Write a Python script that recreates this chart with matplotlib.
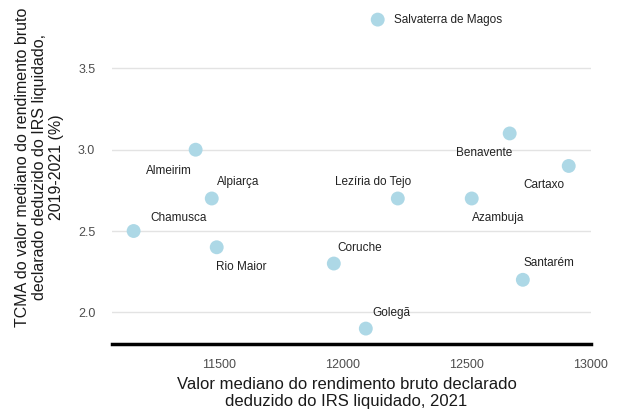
import matplotlib
matplotlib.use("Agg")
import matplotlib.pyplot as plt

plt.rcParams['font.family'] = ['Liberation Sans', 'DejaVu Sans']

municipios = ["Salvaterra de Magos", "Almeirim", "Alpiarça", "Chamusca", "Rio Maior",
              "Coruche", "Golegã", "Lezíria do Tejo", "Azambuja", "Benavente",
              "Cartaxo", "Santarém"]
rendimento = [12141, 11407, 11472, 11157, 11492, 11964, 12093, 12222, 12520, 12673, 12911, 12726]
tcma = [3.8, 3.0, 2.7, 2.5, 2.4, 2.3, 1.9, 2.7, 2.7, 3.1, 2.9, 2.2]

# label offsets (pixels) relative to each point
offsets = {
    "Salvaterra de Magos": (70, 0), "Almeirim": (-27, -21), "Alpiarça": (26, 16),
    "Chamusca": (45, 13), "Rio Maior": (25, -20), "Coruche": (26, 16),
    "Golegã": (26, 16), "Lezíria do Tejo": (-25, 16), "Azambuja": (26, -20),
    "Benavente": (-26, -20), "Cartaxo": (-25, -19), "Santarém": (26, 17),
}

fig = plt.figure(figsize=(6.18, 4.16), dpi=100)
ax = fig.add_axes([0.181, 0.173, 0.775, 0.817])

ax.scatter(rendimento, tcma, s=100, color="#ADD8E6", edgecolors="none", zorder=3)
for name, x, y in zip(municipios, rendimento, tcma):
    dx, dy = offsets[name]
    ax.annotate(name, (x, y), xytext=(dx, dy), textcoords="offset pixels",
                ha="center", va="center", fontsize=8.5, color="#222222", zorder=4)

xr = max(rendimento) - min(rendimento)
yr = max(tcma) - min(tcma)
ax.set_xlim(min(rendimento) - 0.05 * xr, max(rendimento) + 0.05 * xr)
ax.set_ylim(min(tcma) - 0.05 * yr, max(tcma) + 0.05 * yr)

ax.set_xticks([11500, 12000, 12500, 13000])
ax.set_yticks([2.0, 2.5, 3.0, 3.5])
ax.set_yticklabels(["2.0", "2.5", "3.0", "3.5"])
ax.tick_params(axis="both", length=0, labelsize=9, labelcolor="#4d4d4d")
ax.tick_params(axis="x", pad=11)
ax.tick_params(axis="y", pad=12)

ax.grid(axis="y", color="#e3e3e3", linewidth=1)
ax.grid(axis="x", visible=False)
ax.set_axisbelow(True)
for s in ["top", "right", "left"]:
    ax.spines[s].set_visible(False)
ax.spines["bottom"].set_color("black")
ax.spines["bottom"].set_linewidth(2.5)

ax.set_xlabel("Valor mediano do rendimento bruto declarado\ndeduzido do IRS liquidado, 2021",
              fontsize=12, color="#1a1a1a", linespacing=1.15)
ax.xaxis.set_label_coords(0.49, -0.098)
ax.set_ylabel("TCMA do valor mediano do rendimento bruto\ndeclarado deduzido do IRS liquidado,\n2019-2021 (%)",
              fontsize=11.5, color="#1a1a1a", linespacing=1.15)
ax.yaxis.set_label_coords(-0.10, 0.52)

fig.savefig("out.png", dpi=100)
